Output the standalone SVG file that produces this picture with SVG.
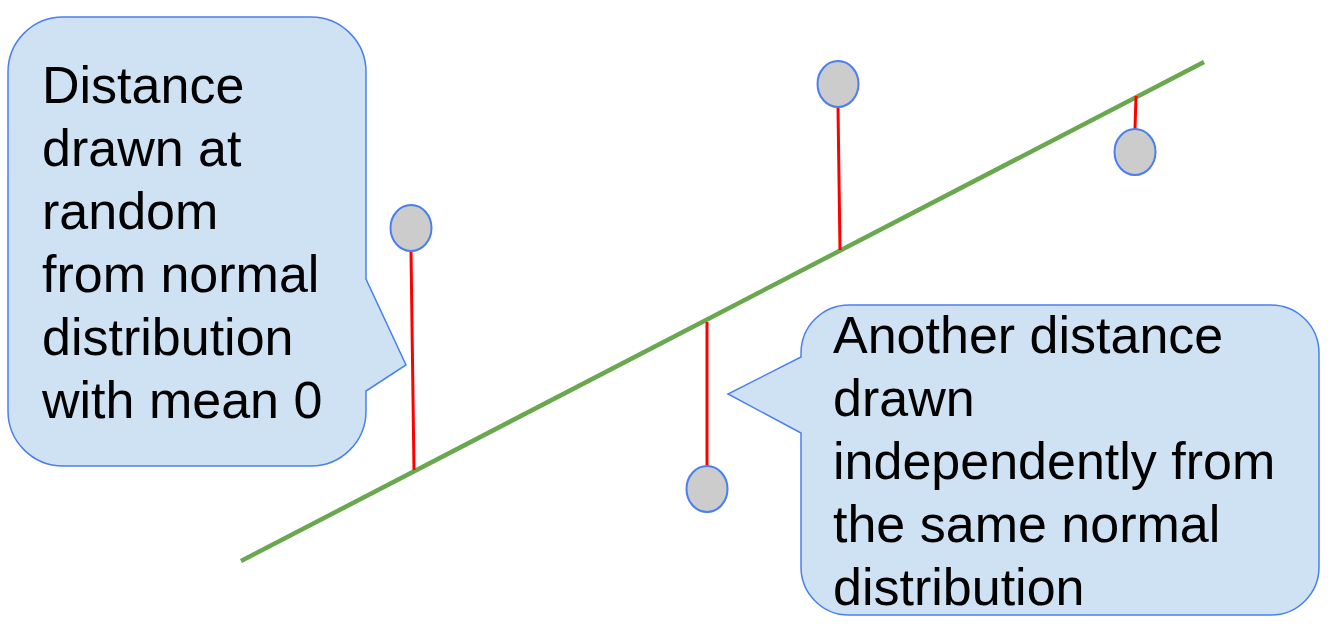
<svg xmlns="http://www.w3.org/2000/svg" width="1329" height="624" viewBox="0 0 1329 624">
<style>
.callout{fill:#cfe2f3;stroke:#4a7ff0;stroke-width:1.5}
.pt{fill:#cccccc;stroke:#4a7ff0;stroke-width:2}
.dist{stroke:#ff0000;stroke-width:3;fill:none}
.txt{font-family:"Liberation Sans",Arial,sans-serif;font-size:52px;fill:#000}
</style>
<rect width="1329" height="624" fill="#ffffff"/>
<g id="connectors">
<line id="fit-line" x1="241" y1="561" x2="1204" y2="62" stroke="#6aa84f" stroke-width="4.5"/>
<line class="dist" x1="411" y1="251" x2="414" y2="470"/>
<line class="dist" x1="707" y1="466" x2="707" y2="322"/>
<line class="dist" x1="838" y1="107" x2="840" y2="250"/>
<line class="dist" x1="1135" y1="129" x2="1136" y2="96"/>
</g>
<g id="point1"><ellipse class="pt" cx="411" cy="228" rx="20.5" ry="23"/></g>
<g id="point2"><ellipse class="pt" cx="707" cy="489" rx="20.5" ry="23"/></g>
<g id="point3"><ellipse class="pt" cx="838" cy="84" rx="20.5" ry="23"/></g>
<g id="point4"><ellipse class="pt" cx="1135" cy="152" rx="20.5" ry="23"/></g>
<g id="callout-left">
<path class="callout" d="M 63,17 H 311 A 55 55 0 0 1 366 72 V 279 L 406 365 L 366 391 V 411 A 55 55 0 0 1 311 466 H 63 A 55 55 0 0 1 8 411 V 72 A 55 55 0 0 1 63 17 Z"/>
<text class="txt" x="42" y="103">Distance</text>
<text class="txt" x="42" y="166">drawn at</text>
<text class="txt" x="42" y="229">random</text>
<text class="txt" x="42" y="292">from normal</text>
<text class="txt" x="42" y="355">distribution</text>
<text class="txt" x="42" y="418">with mean 0</text>
</g>
<g id="callout-right">
<path class="callout" d="M 849,305 H 1271 A 48 48 0 0 1 1319 353 V 567 A 48 48 0 0 1 1271 615 H 849 A 48 48 0 0 1 801 567 V 433 L 728 394 L 801 357 V 353 A 48 48 0 0 1 849 305 Z"/>
<text class="txt" x="833" y="353">Another distance</text>
<text class="txt" x="833" y="416">drawn</text>
<text class="txt" x="833" y="479">independently from</text>
<text class="txt" x="833" y="542">the same normal</text>
<text class="txt" x="833" y="605">distribution</text>
</g>
</svg>
